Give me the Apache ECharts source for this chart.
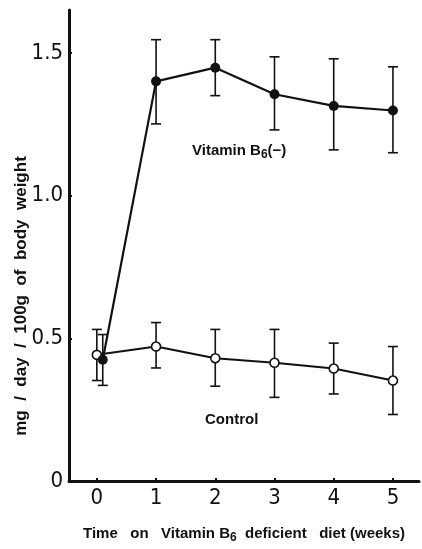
<!DOCTYPE html>
<html>
<head>
<meta charset="utf-8">
<script src="https://cdn.jsdelivr.net/npm/echarts@6/dist/echarts.min.js"></script>
<style>
  html, body { margin: 0; padding: 0; background: #fff; }
  #chart { width: 422px; height: 549px; }
</style>
</head>
<body>
<div id="chart"></div>
<script>
// weeks on the diet
var weeks = [0, 1, 2, 3, 4, 5];
var xTicks = [0, 1, 2, 3, 4, 5];
var yTicks = [0, 0.5, 1.0, 1.5];

// Vitamin B6(-) group (first point drawn a little right of 0)
var defX = [0.1, 1, 2, 3, 4, 5];
var defMean = [0.425, 1.40, 1.448, 1.355, 1.314, 1.298];
var defLow = [0.335, 1.251, 1.35, 1.23, 1.16, 1.15];
var defHigh = [0.513, 1.546, 1.546, 1.486, 1.479, 1.451];

// Control group
var ctlMean = [0.442, 0.471, 0.43, 0.414, 0.394, 0.352];
var ctlLow = [0.352, 0.396, 0.332, 0.293, 0.305, 0.233];
var ctlHigh = [0.531, 0.555, 0.531, 0.531, 0.483, 0.471];

var FONT = 'Liberation Sans';
var NUMFONT = '"Liberation Sans Narrow", "DejaVu Sans Condensed", sans-serif';
var myChart = echarts.init(document.getElementById('chart'));

function pairs(xs, ys) {
  var out = [];
  for (var i = 0; i < xs.length; i++) out.push([xs[i], ys[i]]);
  return out;
}
function bars(xs, lo, hi) {
  var out = [];
  for (var i = 0; i < xs.length; i++) out.push([xs[i], lo[i], hi[i]]);
  return out;
}

// vertical error bar with caps
function errRender(params, api) {
  var x = api.value(0);
  var lo = api.coord([x, api.value(1)]);
  var hi = api.coord([x, api.value(2)]);
  var w = 5;
  var st = { stroke: '#111', lineWidth: 1.6 };
  return {
    type: 'group',
    children: [
      { type: 'line', shape: { x1: lo[0], y1: lo[1], x2: hi[0], y2: hi[1] }, style: st },
      { type: 'line', shape: { x1: lo[0] - w, y1: lo[1], x2: lo[0] + w, y2: lo[1] }, style: st },
      { type: 'line', shape: { x1: hi[0] - w, y1: hi[1], x2: hi[0] + w, y2: hi[1] }, style: st }
    ]
  };
}

var option = {
  backgroundColor: '#fff',
  animation: false,
  grid: { left: 69, right: 3, top: 10, bottom: 56 },
  xAxis: {
    type: 'value',
    min: -0.47,
    max: 5.44,
    name: '{t|Time   on   Vitamin B}{s|6}{t|  deficient   diet (weeks)}',
    nameLocation: 'middle',
    nameGap: 43,
    nameTextStyle: {
      rich: {
        t: { fontFamily: FONT, fontSize: 15, color: '#111', fontWeight: 'bold' },
        s: { fontFamily: FONT, fontSize: 12, color: '#111', fontWeight: 'bold', padding: [8, 0, 0, 0] }
      }
    },
    axisLine: { onZero: false, lineStyle: { color: '#111', width: 3 } },
    axisTick: { customValues: xTicks, length: 3, inside: true, lineStyle: { color: '#111', width: 2 } },
    axisLabel: { customValues: xTicks, margin: 6, fontFamily: NUMFONT, fontSize: 22, color: '#111' },
    splitLine: { show: false }
  },
  yAxis: {
    type: 'value',
    min: 0,
    max: 1.65,
    axisLine: { onZero: false, lineStyle: { color: '#111', width: 3 } },
    axisTick: { customValues: yTicks, length: 3, inside: true, lineStyle: { color: '#111', width: 2 } },
    axisLabel: {
      customValues: yTicks,
      margin: 6,
      fontFamily: NUMFONT,
      fontSize: 22,
      color: '#111',
      formatter: function (v) { return v === 0 ? '0' : v.toFixed(1); }
    },
    splitLine: { show: false }
  },
  series: [
    {
      type: 'custom',
      renderItem: errRender,
      data: bars(weeks, ctlLow, ctlHigh),
      z: 1
    },
    {
      type: 'custom',
      renderItem: errRender,
      data: bars(defX, defLow, defHigh),
      z: 1
    },
    {
      name: 'Control',
      type: 'line',
      data: pairs(weeks, ctlMean),
      symbol: 'circle',
      symbolSize: 9,
      itemStyle: { color: '#fff', borderColor: '#111', borderWidth: 1.6 },
      lineStyle: { color: '#111', width: 2 },
      z: 3
    },
    {
      name: 'Vitamin B6(-)',
      type: 'line',
      data: pairs(defX, defMean),
      symbol: 'circle',
      symbolSize: 10,
      itemStyle: { color: '#111', borderColor: '#111', borderWidth: 0 },
      lineStyle: { color: '#111', width: 2.2 },
      z: 4
    }
  ],
  graphic: [
    {
      // y axis title, sits lower than the axis middle as in the original
      type: 'text',
      x: 21,
      y: 296,
      rotation: Math.PI / 2,
      style: {
        text: 'mg  /  day  /  100g  of  body  weight',
        fontFamily: FONT,
        fontSize: 17,
        fontWeight: 'bold',
        fill: '#111',
        align: 'center',
        verticalAlign: 'middle'
      }
    },
    {
      type: 'text',
      left: 192,
      top: 143,
      style: {
        text: '{t|Vitamin B}{s|6}{t|(−)}',
        rich: {
          t: { fontFamily: FONT, fontSize: 15, fill: '#111', fontWeight: 'bold' },
          s: { fontFamily: FONT, fontSize: 12, fill: '#111', fontWeight: 'bold', padding: [8, 0, 0, 0] }
        }
      }
    },
    {
      type: 'text',
      left: 205,
      top: 412,
      style: { text: 'Control', fontFamily: FONT, fontSize: 15, fill: '#111', fontWeight: 'bold' }
    }
  ]
};

myChart.setOption(option);
</script>
</body>
</html>
